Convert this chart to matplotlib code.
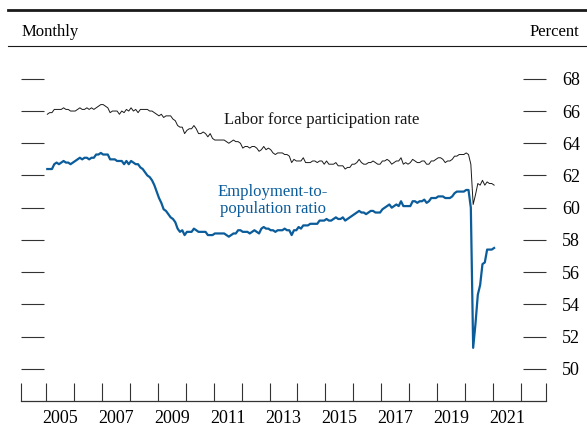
import matplotlib
matplotlib.use('Agg')
import matplotlib.pyplot as plt
from matplotlib.lines import Line2D
import numpy as np

# monthly values, Jan 2005 - Jan 2021 (percent)
lfpr = [
    65.8, 65.9, 65.9, 66.1, 66.1, 66.1, 66.1, 66.2, 66.1, 66.1, 66.0, 66.0,  # 2005
    66.0, 66.1, 66.2, 66.1, 66.1, 66.2, 66.1, 66.2, 66.1, 66.2, 66.3, 66.4,  # 2006
    66.4, 66.3, 66.2, 65.9, 66.0, 66.0, 66.0, 65.8, 66.0, 65.9, 66.1, 66.0,  # 2007
    66.2, 66.0, 66.1, 65.9, 66.1, 66.1, 66.1, 66.1, 66.0, 66.0, 65.9, 65.8,  # 2008
    65.7, 65.8, 65.6, 65.7, 65.7, 65.7, 65.5, 65.4, 65.1, 65.0, 65.0, 64.6,  # 2009
    64.8, 64.9, 64.9, 65.1, 64.9, 64.6, 64.6, 64.7, 64.6, 64.4, 64.6, 64.3,  # 2010
    64.2, 64.2, 64.2, 64.2, 64.2, 64.1, 64.0, 64.1, 64.2, 64.1, 64.1, 64.0,  # 2011
    63.7, 63.8, 63.8, 63.7, 63.8, 63.8, 63.7, 63.5, 63.6, 63.8, 63.6, 63.7,  # 2012
    63.6, 63.4, 63.3, 63.4, 63.4, 63.4, 63.3, 63.3, 63.2, 62.8, 63.0, 62.9,  # 2013
    62.9, 62.9, 63.1, 62.8, 62.8, 62.8, 62.9, 62.9, 62.8, 62.9, 62.9, 62.7,  # 2014
    62.9, 62.7, 62.7, 62.7, 62.8, 62.6, 62.6, 62.6, 62.4, 62.5, 62.5, 62.7,  # 2015
    62.7, 62.8, 63.0, 62.8, 62.7, 62.7, 62.8, 62.8, 62.9, 62.8, 62.7, 62.7,  # 2016
    62.9, 62.9, 63.0, 62.9, 62.7, 62.8, 62.9, 62.9, 63.1, 62.7, 62.8, 62.7,  # 2017
    62.8, 63.0, 62.9, 62.8, 62.8, 62.9, 62.9, 62.7, 62.7, 62.9, 62.9, 63.0,  # 2018
    63.1, 63.1, 63.0, 62.8, 62.9, 62.9, 63.0, 63.2, 63.2, 63.3, 63.3, 63.3,  # 2019
    63.4, 63.3, 62.7, 60.2, 60.8, 61.5, 61.4, 61.7, 61.4, 61.6, 61.5, 61.5,  # 2020
    61.4,                                                                    # 2021
]

epop = [
    62.4, 62.4, 62.4, 62.7, 62.8, 62.7, 62.8, 62.9, 62.8, 62.8, 62.7, 62.8,  # 2005
    62.9, 63.0, 63.1, 63.0, 63.1, 63.1, 63.0, 63.1, 63.1, 63.3, 63.3, 63.4,  # 2006
    63.3, 63.3, 63.3, 63.0, 63.0, 63.0, 62.9, 62.9, 62.9, 62.7, 62.9, 62.7,  # 2007
    62.9, 62.8, 62.7, 62.7, 62.5, 62.4, 62.2, 62.0, 61.9, 61.7, 61.4, 61.0,  # 2008
    60.6, 60.3, 59.9, 59.8, 59.6, 59.4, 59.3, 59.1, 58.7, 58.5, 58.6, 58.3,  # 2009
    58.5, 58.5, 58.5, 58.7, 58.6, 58.5, 58.5, 58.5, 58.5, 58.3, 58.3, 58.3,  # 2010
    58.4, 58.4, 58.4, 58.4, 58.4, 58.3, 58.2, 58.3, 58.4, 58.4, 58.6, 58.6,  # 2011
    58.5, 58.5, 58.5, 58.4, 58.5, 58.6, 58.5, 58.4, 58.7, 58.8, 58.7, 58.7,  # 2012
    58.6, 58.6, 58.5, 58.6, 58.6, 58.6, 58.7, 58.6, 58.6, 58.3, 58.6, 58.6,  # 2013
    58.8, 58.7, 58.9, 58.9, 58.9, 59.0, 59.0, 59.0, 59.0, 59.2, 59.2, 59.2,  # 2014
    59.3, 59.2, 59.2, 59.3, 59.4, 59.3, 59.3, 59.4, 59.2, 59.3, 59.4, 59.5,  # 2015
    59.6, 59.7, 59.8, 59.7, 59.7, 59.6, 59.7, 59.8, 59.8, 59.7, 59.7, 59.7,  # 2016
    59.9, 60.0, 60.1, 60.2, 60.0, 60.1, 60.2, 60.1, 60.4, 60.1, 60.1, 60.1,  # 2017
    60.1, 60.4, 60.4, 60.3, 60.4, 60.4, 60.5, 60.3, 60.4, 60.6, 60.6, 60.6,  # 2018
    60.7, 60.7, 60.7, 60.6, 60.6, 60.6, 60.7, 60.9, 61.0, 61.0, 61.0, 61.0,  # 2019
    61.1, 61.1, 60.0, 51.3, 52.8, 54.6, 55.2, 56.5, 56.6, 57.4, 57.4, 57.4,  # 2020
    57.5,                                                                    # 2021
]

year_ticks = list(range(2005, 2023))
year_labels = [str(y) for y in range(2005, 2022, 2)]
y_ticks = list(range(50, 70, 2))

BLUE = '#0b5c9a'
plt.rcParams['font.family'] = ['Liberation Serif', 'DejaVu Serif']

# month positions (mid-month)
x = 2005 + (np.arange(len(lfpr)) + 0.5) / 12

fig = plt.figure(figsize=(5.87, 4.26), dpi=100)
ax = fig.add_axes([21 / 587, 25 / 426, 525 / 587, 354.4 / 426])

ax.plot(x, lfpr, color='#1a1a1a', lw=0.7)
ax.plot(x, epop, color=BLUE, lw=1.6)

ax.set_xlim(2004.1, 2022.9)
ax.set_ylim(48, 70)

for s in ['top', 'left', 'right']:
    ax.spines[s].set_visible(False)
ax.spines['bottom'].set_linewidth(0.9)
ax.spines['bottom'].set_color('#333333')

# x: year ticks plus axis ends, labels at mid-year
ax.set_xticks([2004.1] + year_ticks + [2022.9])
ax.set_xticklabels([])
ax.tick_params(axis='x', which='major', direction='in', length=13,
               width=0.8, color='#333333')
ax.set_xticks([int(l) + 0.5 for l in year_labels], minor=True)
ax.set_xticklabels(year_labels, minor=True)
ax.tick_params(axis='x', which='minor', length=0, pad=6.5, labelsize=13)

# y: dashes on both sides, labels on right
ax.set_yticks(y_ticks)
ax.tick_params(axis='y', direction='in', length=16.5, width=0.8,
               color='#333333', left=True, right=True,
               labelleft=False, labelright=True, pad=11.5, labelsize=13)

ax.text(2014.88, 65.43, 'Labor force participation rate', fontsize=12,
        ha='center', va='center', color='#1a1a1a')
ax.text(2013.12, 60.45, 'Employment-to-\npopulation ratio', fontsize=12,
        ha='center', va='center', color=BLUE, linespacing=1.1)

# header rules and labels
fig.add_artist(Line2D([8 / 587, 1], [1 - 10 / 426] * 2, color='#1a1a1a', lw=2))
fig.add_artist(Line2D([8 / 587, 1], [1 - 46 / 426] * 2, color='#1a1a1a', lw=0.8))
fig.text(22 / 587, 1 - 32 / 426, 'Monthly', fontsize=12, ha='left', va='center')
fig.text(579 / 587, 1 - 32 / 426, 'Percent', fontsize=12, ha='right', va='center')

fig.savefig('out.png', dpi=100)
plt.close(fig)
